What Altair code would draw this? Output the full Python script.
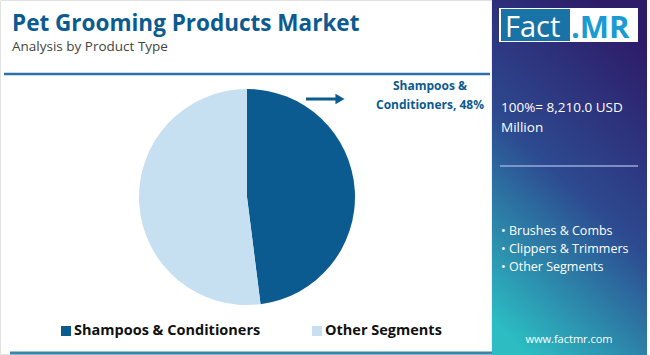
import altair as alt
import pandas as pd

categories = ["Shampoos & Conditioners", "Other Segments"]
shares = [48, 52]
colors = ["#0b5b91", "#c6e0f1"]
title = "Pet Grooming Products Market"
subtitle = "Analysis by Product Type"
total_lines = ["100%= 8,210.0 USD", "Million"]
other_segments = ["• Brushes & Combs", "• Clippers & Trimmers", "• Other Segments"]
callout_lines = ["Shampoos &", "Conditioners, 48%"]

one = pd.DataFrame({"a": [0]})
base = alt.Chart(one)
FONT = "Open Sans"

pie_df = pd.DataFrame({"category": categories, "share": shares, "order": [0, 1]})

# card background & border
card = base.mark_rect(fill="white", stroke="#e2e2e2", strokeWidth=1).encode(
    x=alt.value(0.5), x2=alt.value(492), y=alt.value(0.5), y2=alt.value(354.5))

# right panel gradient
panel = base.mark_rect(
    fill=alt.Gradient(
        gradient="linear",
        stops=[alt.GradientStop(color="#2e1c69", offset=0),
               alt.GradientStop(color="#2d4a90", offset=0.5),
               alt.GradientStop(color="#2cbcc2", offset=1)],
        x1=0.65, y1=0.0, x2=0.25, y2=1.0)
).encode(x=alt.value(492), x2=alt.value(647), y=alt.value(0), y2=alt.value(355))

rule_top = base.mark_rule(color="#2c72a8", strokeWidth=2.5).encode(
    x=alt.value(4), x2=alt.value(490), y=alt.value(74))
rule_bottom = base.mark_rule(color="#3a86ab", strokeWidth=3).encode(
    x=alt.value(10), x2=alt.value(492), y=alt.value(353))

title_t = base.mark_text(align="left", baseline="alphabetic", font=FONT, fontWeight="bold",
                         fontSize=22.5, color="#0b5b91").encode(
    x=alt.value(12), y=alt.value(31), text=alt.value(title))
sub_t = base.mark_text(align="left", baseline="alphabetic", font=FONT, fontSize=13.5,
                       color="#444444").encode(
    x=alt.value(12), y=alt.value(51), text=alt.value(subtitle))

pie = alt.Chart(pie_df).mark_arc(outerRadius=108, stroke=None).encode(
    theta=alt.Theta("share:Q", stack=True),
    order=alt.Order("order:Q"),
    color=alt.Color("category:N", scale=alt.Scale(domain=categories, range=colors), legend=None),
    x=alt.value(247), y=alt.value(197))

arrow_line = base.mark_rule(color="#0b5b91", strokeWidth=3).encode(
    x=alt.value(306), x2=alt.value(337), y=alt.value(99))
arrow_head = base.mark_point(shape="triangle-right", filled=True, size=110, color="#0b5b91",
                             opacity=1).encode(x=alt.value(340), y=alt.value(99))

callout_df = pd.DataFrame({"t": callout_lines, "y": [86, 105], "x": [430, 430]})
callout = alt.Chart(callout_df).mark_text(align="center", baseline="middle", font=FONT,
                                          fontWeight="bold", fontSize=12, color="#0b5b91").encode(
    x=alt.X("x:Q", scale=None), y=alt.Y("y:Q", scale=None), text="t:N")

# legend
leg_df = pd.DataFrame({"category": categories, "x": [66, 317]})
leg_sq = alt.Chart(leg_df).mark_square(size=100, filled=True, opacity=1).encode(
    x=alt.X("x:Q", scale=None), y=alt.value(331),
    color=alt.Color("category:N", scale=alt.Scale(domain=categories, range=colors), legend=None))
leg_tx = alt.Chart(leg_df).mark_text(align="left", baseline="middle", font=FONT, fontWeight="bold",
                                     fontSize=14.5, color="#111111", dx=8).encode(
    x=alt.X("x:Q", scale=None), y=alt.value(331), text="category:N")

# logo
logo_bg = base.mark_rect(fill="white").encode(
    x=alt.value(499), x2=alt.value(638), y=alt.value(8), y2=alt.value(42))
logo_blue = base.mark_rect(fill="#1a73a6").encode(
    x=alt.value(501), x2=alt.value(570), y=alt.value(9), y2=alt.value(41))
logo_fact = base.mark_text(align="left", baseline="alphabetic", font=FONT, fontSize=29,
                           color="white").encode(x=alt.value(505), y=alt.value(37), text=alt.value("Fact"))
logo_mr = base.mark_text(align="left", baseline="alphabetic", font=FONT, fontWeight="bold", fontSize=31,
                         color="#1b9bd1").encode(x=alt.value(571), y=alt.value(38), text=alt.value(".MR"))

tot_df = pd.DataFrame({"t": total_lines, "y": [108, 128]})
tot = alt.Chart(tot_df).mark_text(align="left", baseline="middle", font=FONT, fontSize=13.5,
                                  color="white").encode(
    x=alt.value(501), y=alt.Y("y:Q", scale=None), text="t:N")
divider = base.mark_rule(color="#9aa8dc", strokeWidth=1.5).encode(
    x=alt.value(500), x2=alt.value(638), y=alt.value(166))
seg_df = pd.DataFrame({"t": other_segments, "y": [231, 249, 267]})
segs = alt.Chart(seg_df).mark_text(align="left", baseline="middle", font=FONT, fontSize=12.5,
                                   color="white").encode(
    x=alt.value(501), y=alt.Y("y:Q", scale=None), text="t:N")
url = base.mark_text(align="center", baseline="middle", font=FONT, fontSize=11,
                     color="white").encode(x=alt.value(569), y=alt.value(340), text=alt.value("www.factmr.com"))

chart = alt.layer(
    card, panel, rule_top, rule_bottom, title_t, sub_t, pie, arrow_line, arrow_head, callout,
    leg_sq, leg_tx, logo_bg, logo_blue, logo_fact, logo_mr, tot, divider, segs, url
).properties(width=650, height=355, autosize=alt.AutoSizeParams(type="none"), padding=0,
             background="white").configure_view(stroke=None).resolve_scale(color="independent")

chart.save("out.html", embed_options={"renderer": "svg", "actions": False})
